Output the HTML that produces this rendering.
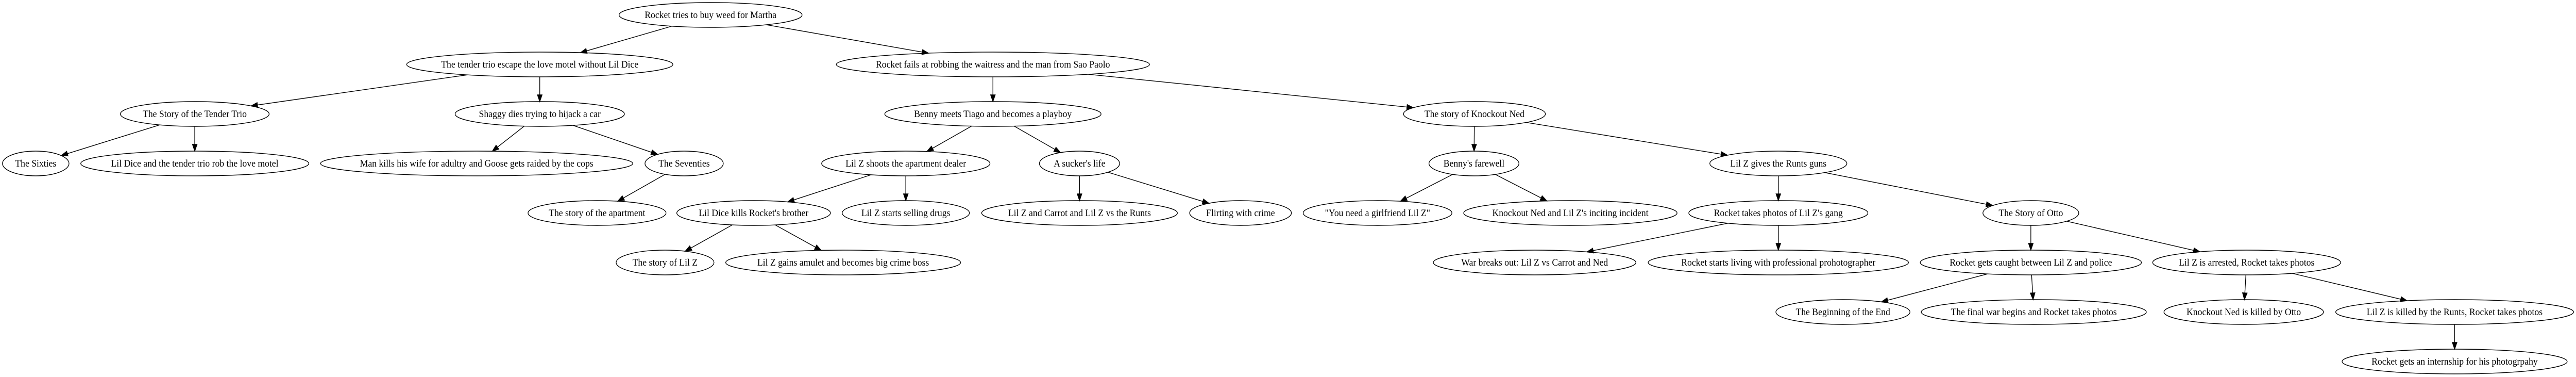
<!DOCTYPE html>
<html><head><meta charset="utf-8"><style>
html,body{margin:0;padding:0;background:#fff;width:100%;height:100%;overflow:hidden;}
svg{display:block;position:absolute;left:0;top:0;width:100vw;height:100vh;}
text{font-family:"Liberation Serif",serif;font-size:18.6px;}
</style></head><body>
<svg id="g" viewBox="0 0 5264 731" preserveAspectRatio="none" xmlns="http://www.w3.org/2000/svg"></svg>
<script>
const Y=[29,125,221,317,413,509,605,701];
const N={
a:[1452,0,187,"Rocket tries to buy weed for Martha"],
b:[1103,1,272,"The tender trio escape the love motel without Lil Dice"],
c:[2029,1,320,"Rocket fails at robbing the waitress and the man from Sao Paolo"],
d:[398,2,152,"The Story of the Tender Trio"],
e:[1103,2,173,"Shaggy dies trying to hijack a car"],
f:[2029,2,221,"Benny meets Tiago and becomes a playboy"],
g:[3013,2,145,"The story of Knockout Ned"],
h:[73,3,68,"The Sixties"],
i:[398,3,233,"Lil Dice and the tender trio rob the love motel"],
j:[974,3,319,"Man kills his wife for adultry and Goose gets raided by the cops"],
k:[1398,3,80,"The Seventies"],
l:[1851,3,172,"Lil Z shoots the apartment dealer"],
m:[2206,3,82,"A sucker's life"],
n:[3012,3,92,"Benny's farewell"],
o:[3634,3,140,"Lil Z gives the Runts guns"],
p:[1220,4,141,"The story of the apartment"],
q:[1540,4,157,"Lil Dice kills Rocket's brother"],
r:[1851,4,130,"Lil Z starts selling drugs"],
s:[2206,4,200,"Lil Z and Carrot and Lil Z vs the Runts"],
t:[2535,4,104,"Flirting with crime"],
u:[2815,4,152,"\"You need a girlfriend Lil Z\""],
v:[3209,4,218,"Knockout Ned and Lil Z's inciting incident"],
w:[3634,4,183,"Rocket takes photos of Lil Z's gang"],
x:[4150,4,98,"The Story of Otto"],
y:[1359,5,100,"The story of Lil Z"],
z:[1723,5,240,"Lil Z gains amulet and becomes big crime boss"],
A:[3136,5,207,"War breaks out: Lil Z vs Carrot and Ned"],
B:[3634,5,266,"Rocket starts living with professional prohotographer"],
C:[4150,5,226,"Rocket gets caught between Lil Z and police"],
D:[4591,5,192,"Lil Z is arrested, Rocket takes photos"],
E:[3766,6,137,"The Beginning of the End"],
F:[4156,6,230,"The final war begins and Rocket takes photos"],
G:[4585,6,163,"Knockout Ned is killed by Otto"],
H:[5016,6,243,"Lil Z is killed by the Runts, Rocket takes photos"],
I:[5016,7,230,"Rocket gets an internship for his photogrpahy"]
};
const E=["ab","ac","bd","be","cf","cg","dh","di","ej","ek","fl","fm","gn","go","kp","lq","lr","ms","mt","nu","nv","ow","ox","qy","qz","wA","wB","xC","xD","CE","CF","DG","DH","HI"];
const RY=24;let s="";
function clip(cx,cy,rx,ux,uy){const t=1/Math.sqrt((ux*ux)/(rx*rx)+(uy*uy)/(RY*RY));return [cx+ux*t,cy+uy*t];}
for(const e of E){const P=N[e[0]],C=N[e[1]];
const x1=P[0],y1=Y[P[1]],x2=C[0],y2=Y[C[1]];
let dx=x2-x1,dy=y2-y1,L=Math.hypot(dx,dy);const ux=dx/L,uy=dy/L;
const [sx,sy]=clip(x1,y1,P[2],ux,uy);const [ex,ey]=clip(x2,y2,C[2],-ux,-uy);
const al=13,aw=4.7;const bx=ex-ux*al,by=ey-uy*al;
s+=`<line x1="${sx}" y1="${sy}" x2="${bx}" y2="${by}" stroke="#000" stroke-width="1.4"/>`;
s+=`<polygon points="${ex},${ey} ${bx-uy*aw},${by+ux*aw} ${bx+uy*aw},${by-ux*aw}" fill="#000" stroke="#000" stroke-width="1.4"/>`;}
for(const k in N){const n=N[k];const y=Y[n[1]];
s+=`<ellipse cx="${n[0]}" cy="${y}" rx="${n[2]}" ry="${RY}" fill="none" stroke="#000" stroke-width="1.4"/>`;
const t=n[3].replace(/&/g,"&amp;").replace(/</g,"&lt;").replace(/"/g,"&quot;");
s+=`<text x="${n[0]}" y="${y+6}" text-anchor="middle">${t}</text>`;}
document.getElementById("g").innerHTML=s;
</script>
</body></html>
